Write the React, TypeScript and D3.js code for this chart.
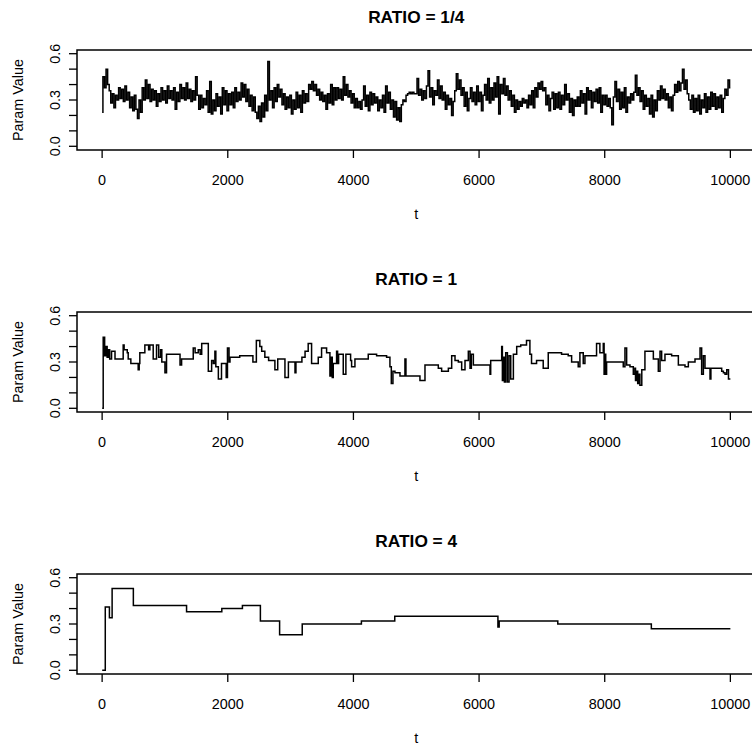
import React from 'react';
import * as d3 from 'd3';

const W = 752, H = 746;

// chain 1 (RATIO = 1/4): value every 25 iterations
const chainT1 = d3.range(0, 10001, 25);
const chainV1 = [
	0.22, 0.45, 0.38, 0.50, 0.40, 0.36, 0.28, 0.34, 0.25, 0.33,
	0.30, 0.38, 0.31, 0.37, 0.29, 0.39, 0.30, 0.35, 0.25, 0.32,
	0.23, 0.33, 0.24, 0.18, 0.30, 0.22, 0.38, 0.30, 0.43, 0.31,
	0.40, 0.29, 0.37, 0.30, 0.36, 0.26, 0.34, 0.29, 0.38, 0.30,
	0.36, 0.28, 0.39, 0.31, 0.36, 0.30, 0.38, 0.24, 0.35, 0.29,
	0.40, 0.31, 0.38, 0.30, 0.41, 0.31, 0.37, 0.29, 0.36, 0.30,
	0.45, 0.33, 0.24, 0.33, 0.25, 0.31, 0.27, 0.36, 0.22, 0.42,
	0.21, 0.30, 0.23, 0.34, 0.26, 0.32, 0.21, 0.38, 0.27, 0.36,
	0.23, 0.34, 0.27, 0.35, 0.25, 0.38, 0.29, 0.35, 0.30, 0.41,
	0.32, 0.40, 0.29, 0.37, 0.26, 0.33, 0.23, 0.32, 0.22, 0.18,
	0.26, 0.16, 0.28, 0.19, 0.33, 0.23, 0.55, 0.30, 0.36, 0.25,
	0.38, 0.29, 0.40, 0.32, 0.37, 0.27, 0.34, 0.24, 0.32, 0.25,
	0.33, 0.21, 0.30, 0.24, 0.35, 0.25, 0.33, 0.22, 0.36, 0.28,
	0.34, 0.29, 0.40, 0.37, 0.42, 0.36, 0.40, 0.33, 0.37, 0.30,
	0.35, 0.29, 0.33, 0.24, 0.34, 0.28, 0.40, 0.27, 0.38, 0.30,
	0.38, 0.31, 0.37, 0.30, 0.45, 0.33, 0.40, 0.32, 0.36, 0.28,
	0.34, 0.25, 0.31, 0.25, 0.29, 0.24, 0.30, 0.39, 0.26, 0.33,
	0.23, 0.35, 0.27, 0.34, 0.28, 0.32, 0.23, 0.30, 0.25, 0.33,
	0.22, 0.39, 0.28, 0.35, 0.24, 0.30, 0.19, 0.29, 0.17, 0.25,
	0.16, 0.27, 0.30, 0.29, 0.33, 0.34, 0.35, 0.34, 0.35, 0.34,
	0.34, 0.44, 0.33, 0.37, 0.30, 0.36, 0.31, 0.39, 0.49, 0.32,
	0.38, 0.27, 0.36, 0.33, 0.43, 0.31, 0.39, 0.30, 0.35, 0.24,
	0.33, 0.27, 0.31, 0.20, 0.29, 0.36, 0.47, 0.37, 0.43, 0.33,
	0.38, 0.26, 0.35, 0.23, 0.31, 0.38, 0.29, 0.35, 0.27, 0.39,
	0.29, 0.35, 0.23, 0.33, 0.40, 0.30, 0.44, 0.28, 0.38, 0.30,
	0.41, 0.32, 0.45, 0.21, 0.40, 0.34, 0.44, 0.33, 0.39, 0.30,
	0.36, 0.26, 0.33, 0.22, 0.30, 0.24, 0.29, 0.26, 0.31, 0.28,
	0.30, 0.25, 0.33, 0.27, 0.36, 0.25, 0.38, 0.32, 0.41, 0.37,
	0.42, 0.36, 0.38, 0.27, 0.33, 0.23, 0.31, 0.35, 0.24, 0.34,
	0.25, 0.35, 0.24, 0.33, 0.27, 0.40, 0.30, 0.34, 0.22, 0.31,
	0.20, 0.30, 0.26, 0.32, 0.26, 0.36, 0.28, 0.34, 0.21, 0.38,
	0.30, 0.36, 0.25, 0.35, 0.29, 0.37, 0.28, 0.38, 0.22, 0.33,
	0.27, 0.33, 0.26, 0.31, 0.25, 0.14, 0.32, 0.42, 0.29, 0.37,
	0.24, 0.35, 0.25, 0.38, 0.22, 0.32, 0.28, 0.34, 0.30, 0.35,
	0.46, 0.33, 0.38, 0.29, 0.36, 0.24, 0.33, 0.26, 0.31, 0.21,
	0.33, 0.19, 0.30, 0.23, 0.36, 0.30, 0.39, 0.31, 0.37, 0.30,
	0.34, 0.25, 0.32, 0.23, 0.33, 0.40, 0.35, 0.42, 0.36, 0.41,
	0.50, 0.37, 0.43, 0.34, 0.30, 0.24, 0.33, 0.22, 0.31, 0.23,
	0.33, 0.21, 0.30, 0.25, 0.34, 0.22, 0.32, 0.24, 0.35, 0.26,
	0.34, 0.24, 0.32, 0.25, 0.33, 0.22, 0.31, 0.37, 0.33, 0.43,
	0.38
];

// chain 2 (RATIO = 1): iteration where the value changes, and the new value
const chainT2 = [
	1, 17, 40, 60, 80, 100, 120, 150, 205, 335, 350, 400, 415, 457, 574, 590, 600, 680, 740, 760,
	813, 866, 900, 930, 950, 1000, 1025, 1240, 1265, 1450, 1480, 1530, 1560, 1585, 1690, 1743, 1770, 1795, 1810, 1850,
	1900, 1975, 1995, 2020, 2035, 2190, 2400, 2455, 2510, 2540, 2590, 2650, 2750, 2795, 2910, 2965, 3070, 3085, 3180, 3230,
	3280, 3334, 3440, 3493, 3573, 3626, 3642, 3663, 3679, 3732, 3748, 3764, 3838, 3880, 3955, 3971, 4024, 4236, 4369, 4528,
	4581, 4603, 4629, 4661, 4741, 4820, 4836, 5059, 5139, 5351, 5404, 5511, 5564, 5617, 5670, 5723, 5776, 5829, 5856, 5877,
	5909, 6174, 6185, 6360, 6371, 6387, 6403, 6424, 6451, 6477, 6504, 6546, 6599, 6663, 6755, 6809, 6835, 6915, 7021, 7101,
	7313, 7419, 7473, 7578, 7605, 7658, 7685, 7870, 7923, 7977, 7990, 8003, 8016, 8030, 8295, 8322, 8349, 8402, 8455, 8480,
	8490, 8510, 8525, 8540, 8560, 8590, 8640, 8774, 8853, 8880, 8906, 8959, 9065, 9172, 9278, 9331, 9437, 9517, 9543, 9570,
	9596, 9676, 9690, 9862, 9889, 9915, 9942, 9970, 10000
];
const chainV2 = [
	0.00, 0.46, 0.34, 0.40, 0.33, 0.38, 0.32, 0.37, 0.32, 0.41, 0.38, 0.36, 0.32, 0.29, 0.25, 0.29, 0.36, 0.41, 0.38, 0.41,
	0.32, 0.41, 0.33, 0.38, 0.30, 0.23, 0.35, 0.28, 0.32, 0.39, 0.36, 0.38, 0.35, 0.42, 0.24, 0.31, 0.29, 0.37, 0.27, 0.19,
	0.29, 0.20, 0.39, 0.30, 0.33, 0.34, 0.30, 0.44, 0.40, 0.37, 0.33, 0.31, 0.25, 0.32, 0.20, 0.30, 0.23, 0.30, 0.33, 0.37,
	0.42, 0.29, 0.33, 0.39, 0.36, 0.21, 0.33, 0.20, 0.29, 0.37, 0.29, 0.35, 0.22, 0.35, 0.31, 0.27, 0.32, 0.35, 0.34, 0.33,
	0.27, 0.16, 0.24, 0.23, 0.21, 0.32, 0.21, 0.18, 0.28, 0.26, 0.24, 0.26, 0.34, 0.31, 0.30, 0.25, 0.31, 0.37, 0.26, 0.35,
	0.28, 0.22, 0.31, 0.40, 0.18, 0.33, 0.17, 0.36, 0.17, 0.34, 0.19, 0.35, 0.40, 0.41, 0.44, 0.35, 0.29, 0.31, 0.26, 0.36,
	0.35, 0.34, 0.30, 0.27, 0.36, 0.29, 0.34, 0.42, 0.36, 0.42, 0.22, 0.35, 0.22, 0.30, 0.27, 0.39, 0.28, 0.27, 0.22, 0.26,
	0.18, 0.24, 0.16, 0.22, 0.15, 0.25, 0.37, 0.32, 0.24, 0.37, 0.31, 0.35, 0.34, 0.28, 0.27, 0.30, 0.32, 0.39, 0.22, 0.34,
	0.26, 0.19, 0.26, 0.24, 0.23, 0.22, 0.25, 0.19, 0.19
];

// chain 3 (RATIO = 4)
const chainT3 = [1, 50, 116, 159, 497, 1344, 1905, 2233, 2519, 2825, 3185, 4127, 4658, 6300, 6320, 7253, 8742, 10000];
const chainV3 = [0.00, 0.41, 0.34, 0.53, 0.42, 0.38, 0.40, 0.42, 0.32, 0.23, 0.30, 0.32, 0.35, 0.28, 0.32, 0.30, 0.27, 0.27];

const titles = ['RATIO = 1/4', 'RATIO = 1', 'RATIO = 4'];
const xTicks = [0, 2000, 4000, 6000, 8000, 10000];
const yTicks = [0, 0.1, 0.2, 0.3, 0.4, 0.5, 0.6];
const yLabelled = ['0.0', '0.3', '0.6'];

const panelTops = [50, 312, 574];
const boxH = 100;
const left = 77, right = 755.5;
const font = '"Liberation Sans", Arial, sans-serif';

const x = d3.scaleLinear().domain([-400, 10400]).range([left, right]);

const Panel = ({ top, title, ts, vs, curve }) => {
	const y = d3.scaleLinear().domain([-0.024, 0.624]).range([top + boxH, top]);
	const line = d3.line()
		.x((d, i) => x(ts[i]))
		.y(d => y(d))
		.curve(curve);
	const bottom = top + boxH;

	return (
		<g>
			<text x={(left + right) / 2} y={top - 27} textAnchor="middle" fontWeight="bold" fontSize={17.3}>{title}</text>
			<path d={line(vs)} fill="none" stroke="#000" strokeWidth={1.5} strokeLinejoin="miter" />
			<rect x={left} y={top} width={right - left} height={boxH} fill="none" stroke="#000" strokeWidth={1.5} />
			{yTicks.map(v =>
				<line key={v} x1={left} x2={left - 8} y1={y(v)} y2={y(v)} stroke="#000" strokeWidth={1.3} />
			)}
			{yLabelled.map(s =>
				<text key={s} transform={`translate(60,${y(+s)}) rotate(-90)`} textAnchor="middle" fontSize={14.4}>{s}</text>
			)}
			{xTicks.map(v =>
				<g key={v}>
					<line x1={x(v)} x2={x(v)} y1={bottom} y2={bottom + 8} stroke="#000" strokeWidth={1.3} />
					<text x={x(v)} y={bottom + 35} textAnchor="middle" fontSize={14.4}>{v}</text>
				</g>
			)}
			<text x={(left + right) / 2} y={bottom + 69} textAnchor="middle" fontSize={14.4}>t</text>
			<text transform={`translate(23,${top + boxH / 2}) rotate(-90)`} textAnchor="middle" fontSize={14.4}>Param Value</text>
		</g>
	);
};

export default function App() {
	return (
		<svg width={W} height={H} style={{ position: 'absolute', left: 0, top: 0, background: '#fff' }} fontFamily={font}>
			<rect width={W} height={H} fill="#fff" />
			<Panel top={panelTops[0]} title={titles[0]} ts={chainT1} vs={chainV1} curve={d3.curveStep} />
			<Panel top={panelTops[1]} title={titles[1]} ts={chainT2} vs={chainV2} curve={d3.curveStepAfter} />
			<Panel top={panelTops[2]} title={titles[2]} ts={chainT3} vs={chainV3} curve={d3.curveStepAfter} />
		</svg>
	);
}
